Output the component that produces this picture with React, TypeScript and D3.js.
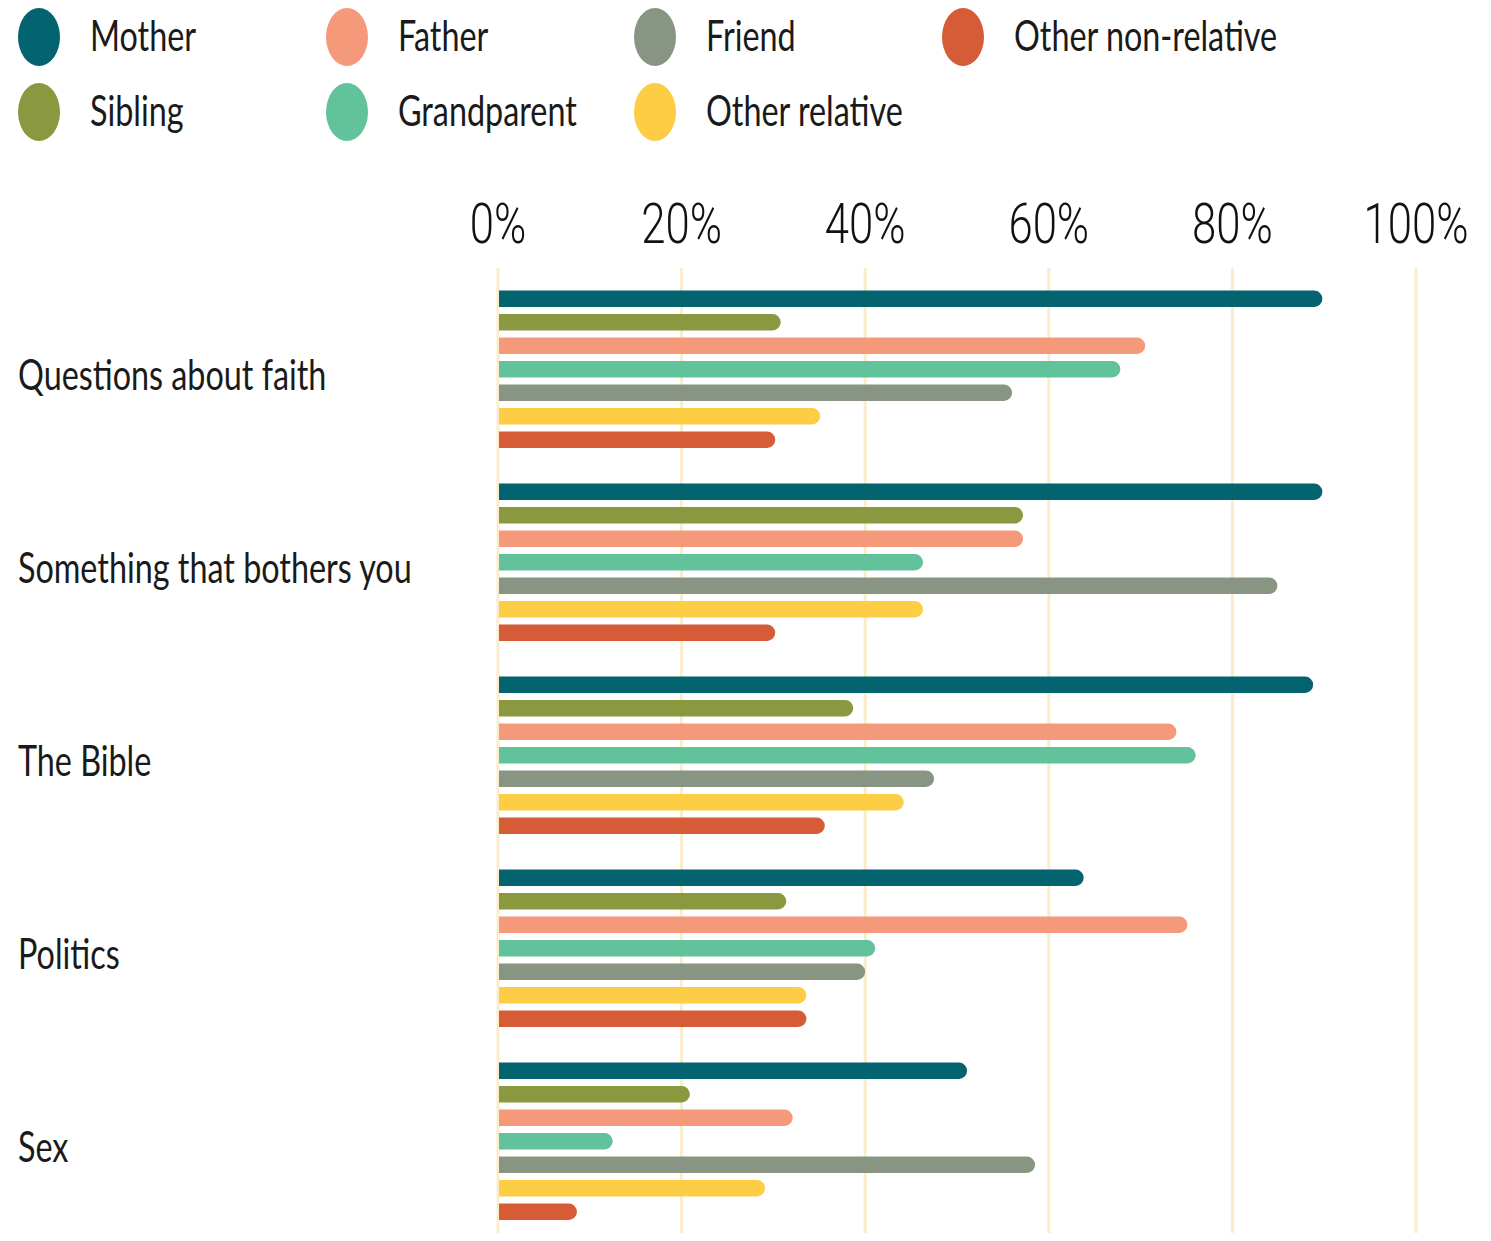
import React from "react";
import * as d3 from "d3";

const categories = [
  "Questions about faith",
  "Something that bothers you",
  "The Bible",
  "Politics",
  "Sex",
];

const series = [
  "Mother",
  "Sibling",
  "Father",
  "Grandparent",
  "Friend",
  "Other relative",
  "Other non-relative",
];

const colors = ["#03636f", "#8a983f", "#f5997b", "#62c29c", "#889583", "#fdcd46", "#d65c38"];

// percent values, one row per category, in series order
const faith = [89.8, 30.8, 70.5, 67.8, 56.0, 35.1, 30.2];
const bothers = [89.8, 57.2, 57.2, 46.3, 84.9, 46.3, 30.2];
const bible = [88.8, 38.7, 73.9, 76.0, 47.5, 44.2, 35.6];
const politics = [63.8, 31.4, 75.1, 41.1, 40.0, 33.6, 33.6];
const sex = [51.1, 20.9, 32.1, 12.5, 58.5, 29.1, 8.6];
const values = [faith, bothers, bible, politics, sex];

const ticks = [0, 20, 40, 60, 80, 100];

const W = 1491;
const H = 1241;
const labelFont = "Lato, 'Open Sans', sans-serif";
const tickFont = "Roboto, 'Liberation Sans', Arial, sans-serif";
const textScale = 0.77;
const tickScale = 0.78;

export default function App() {
  const x = d3.scaleLinear().domain([0, 100]).range([498, 1416]);
  const yOuter = d3.scaleBand<string>().domain(categories).range([287, 287 + 193 * 5]);
  const yInner = d3
    .scaleBand<string>()
    .domain(series)
    .range([0, 23.5 * 7])
    .paddingInner(0.3)
    .paddingOuter(0.15);
  const h = yInner.bandwidth();
  const r = h / 2;

  const barPath = (v: number, y0: number) => {
    const x0 = x(0) + 1;
    const x1 = Math.max(x(v), x0 + r);
    return `M${x0},${y0}H${x1 - r}A${r},${r} 0 0 1 ${x1 - r},${y0 + h}H${x0}Z`;
  };

  return (
    <svg width={W} height={H} style={{ display: "block", margin: "-8px", background: "#fff" }}>
      {/* legend: two rows, filled column by column */}
      {series.map((s, i) => {
        const col = Math.floor(i / 2);
        const row = i % 2;
        const cx = 39 + col * 308;
        const cy = 37 + row * 75;
        return (
          <g key={s}>
            <ellipse cx={cx} cy={cy} rx={21} ry={29} fill={colors[i]} />
            <text
              transform={`translate(${cx + 51},${cy + 14}) scale(${textScale},1)`}
              fontFamily={labelFont}
              fontSize={42}
              fill="#1a1a1a"
            >
              {s}
            </text>
          </g>
        );
      })}

      {/* grid + tick labels */}
      {ticks.map((t) => (
        <g key={t}>
          <line x1={x(t)} x2={x(t)} y1={268} y2={H} stroke="#fbeccb" strokeWidth={3} />
          <text
            transform={`translate(${x(t)},243) scale(${tickScale},1)`}
            textAnchor="middle"
            fontFamily={tickFont}
            fontWeight={300}
            fontSize={56}
            fill="#111"
          >
            {t}%
          </text>
        </g>
      ))}

      {/* bars */}
      {categories.map((c, ci) => {
        const gy = yOuter(c)!;
        const center = gy + (23.5 * 7) / 2;
        return (
          <g key={c}>
            <text
              transform={`translate(18,${center + 21}) scale(${textScale},1)`}
              fontFamily={labelFont}
              fontSize={42}
              fill="#1a1a1a"
            >
              {c}
            </text>
            {series.map((s, si) => (
              <path key={s} d={barPath(values[ci][si], gy + yInner(s)!)} fill={colors[si]} />
            ))}
          </g>
        );
      })}
    </svg>
  );
}
